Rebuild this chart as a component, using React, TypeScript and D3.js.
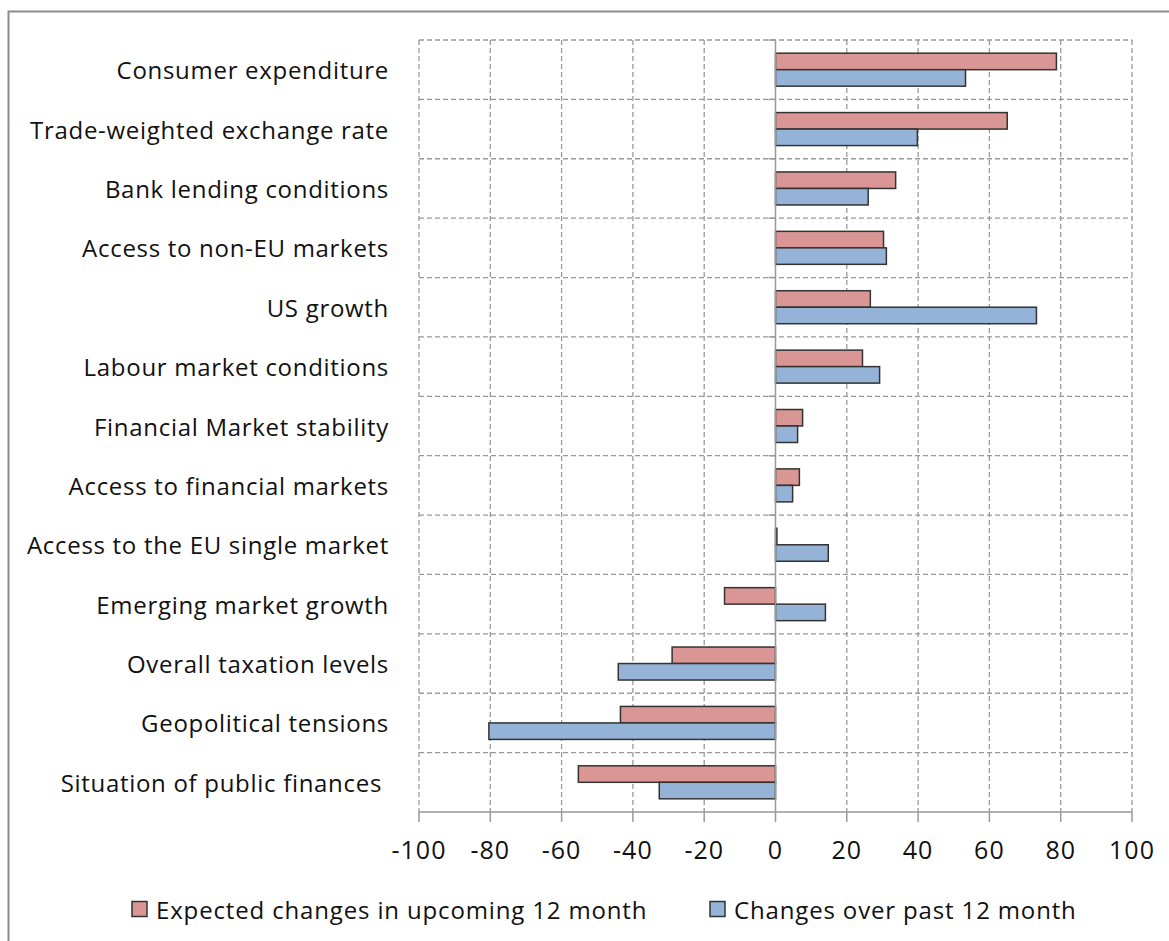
import React from "react";
import * as d3 from "d3";

const categories = [
  "Consumer expenditure",
  "Trade-weighted exchange rate",
  "Bank lending conditions",
  "Access to non-EU markets",
  "US growth",
  "Labour market conditions",
  "Financial Market stability",
  "Access to financial markets",
  "Access to the EU single market",
  "Emerging market growth",
  "Overall taxation levels",
  "Geopolitical tensions",
  "Situation of public finances ",
];
const expectedChanges = [78.8, 65, 33.7, 30.3, 26.6, 24.4, 7.6, 6.7, 0.4, -14.3, -29.0, -43.5, -55.3];
const pastChanges = [53.3, 39.8, 26, 31.1, 73.2, 29.2, 6.2, 4.8, 14.8, 14.0, -44.1, -80.4, -32.6];
const seriesNames = ["Expected changes in upcoming 12 month", "Changes over past 12 month"];
const seriesColors = ["#D99694", "#95B3D7"];
const xTicks = [-100, -80, -60, -40, -20, 0, 20, 40, 60, 80, 100];

const W = 1169;
const H = 941;
const FONT = "'Open Sans', Lato, sans-serif";

export default function App() {
  const x = d3.scaleLinear().domain([-100, 100]).range([419, 1132]);
  const y0 = d3.scaleBand<string>().domain(categories).range([40, 812]).padding(0);
  const y1 = d3
    .scaleBand<string>()
    .domain(seriesNames)
    .range([0, y0.bandwidth()])
    .paddingInner(0)
    .paddingOuter(0.8);
  const series = [expectedChanges, pastChanges];
  const gridColor = "#999";
  const boundaries = categories.map((c) => y0(c)!).concat([812]);

  return (
    <svg
      width={W}
      height={H}
      style={{ position: "absolute", left: 0, top: 0, background: "#fff" }}
      fontFamily={FONT}
    >
      <rect x={0} y={0} width={W} height={H} fill="#fff" />
      {/* outer chart border */}
      <rect x={8.5} y={11.5} width={W + 20} height={H + 20} fill="none" stroke="#8c8c8c" strokeWidth={2} />

      {/* horizontal dashed gridlines at category boundaries */}
      {boundaries.slice(0, -1).map((b, i) => (
        <line key={"h" + i} x1={419} x2={1132} y1={b} y2={b} stroke={gridColor} strokeWidth={1.3} strokeDasharray="5,3" />
      ))}
      {/* vertical dashed gridlines */}
      {xTicks
        .filter((t) => t !== 0)
        .map((t) => (
          <line key={"v" + t} x1={x(t)} x2={x(t)} y1={40} y2={812} stroke={gridColor} strokeWidth={1.3} strokeDasharray="5,3" />
        ))}

      {/* bars */}
      {series.map((vals, si) =>
        categories.map((c, ci) => {
          const v = vals[ci];
          const x0 = x(Math.min(0, v));
          const x1 = x(Math.max(0, v));
          return (
            <rect
              key={si + "-" + ci}
              x={x0}
              y={y0(c)! + y1(seriesNames[si])!}
              width={Math.max(0.5, x1 - x0)}
              height={y1.bandwidth()}
              fill={seriesColors[si]}
              stroke="#333"
              strokeWidth={1.5}
            />
          );
        })
      )}

      {/* zero axis */}
      <line x1={x(0)} x2={x(0)} y1={40} y2={812} stroke="#999" strokeWidth={1.5} />
      {boundaries.slice(0, -1).map((b, i) => (
        <line key={"zt" + i} x1={x(0) - 7} x2={x(0)} y1={b} y2={b} stroke="#999" strokeWidth={1.5} />
      ))}

      {/* bottom axis */}
      <line x1={419} x2={1132} y1={812} y2={812} stroke="#999" strokeWidth={1.5} />
      {xTicks.map((t) => (
        <g key={"t" + t}>
          <line x1={x(t)} x2={x(t)} y1={812} y2={822} stroke="#999" strokeWidth={1.5} />
          <text
            x={x(t)}
            y={849}
            textAnchor="middle"
            dominantBaseline="central"
            fontSize={25}
            letterSpacing={1}
            fill="#111"
          >
            {t}
          </text>
        </g>
      ))}

      {/* category labels */}
      {categories.map((c) => (
        <text
          key={"l" + c}
          x={389}
          y={y0(c)! + y0.bandwidth() / 2}
          textAnchor="end"
          dominantBaseline="central"
          fontSize={24}
          letterSpacing={0.7}
          fill="#111"
          style={{ whiteSpace: "pre" }}
        >
          {c}
        </text>
      ))}

      {/* legend */}
      {seriesNames.map((s, i) => {
        const lx = [132, 710][i];
        return (
          <g key={"lg" + i}>
            <rect x={lx} y={901.5} width={15} height={15} fill={seriesColors[i]} stroke="#333" strokeWidth={1.5} />
            <text x={lx + 24} y={909} dominantBaseline="central" fontSize={24} letterSpacing={0.85} fill="#111">
              {s}
            </text>
          </g>
        );
      })}
    </svg>
  );
}
